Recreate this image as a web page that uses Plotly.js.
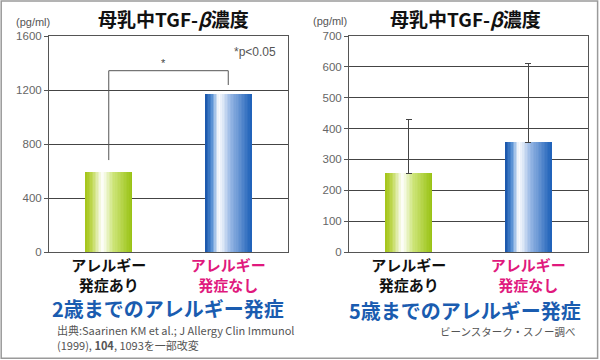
<!DOCTYPE html>
<html>
<head>
<meta charset="utf-8">
<script src="https://cdn.plot.ly/plotly-3.0.1.min.js"></script>
<style>html,body{margin:0;padding:0;background:#fff;}#chart{width:600px;height:360px;}</style>
</head>
<body>
<div id="chart"></div>
<script>
// ---- data ----
const categories = ["発症あり", "発症なし"];
const tickLabels = [
  '<b>アレルギー<br>発症あり</b>',
  '<b><span style="color:#e0197d">アレルギー<br>発症なし</span></b>'
];
const values2y = [590, 1170];          // 2歳まで (pg/ml)
const values5y = [255, 355];           // 5歳まで (pg/ml)
const errors5y = [175, 255];           // 5歳まで upper error
const bracketY = [681, 1343, 1343, 1237]; // significance bracket
const bracketX = [categories[0], categories[0], categories[1], categories[1]];
const yTicks2y = [0, 400, 800, 1200, 1600];
const yTicks5y = [0, 100, 200, 300, 400, 500, 600, 700];

// ---- gradient helpers (style only) ----
const greenStops = [[0,[163,196,22]],[0.14,[192,216,84]],[0.36,[255,255,255]],[0.6,[205,228,120]],[1,[152,194,18]]];
const blueStops  = [[0,[22,82,168]],[0.14,[80,140,210]],[0.3,[255,255,255]],[0.55,[150,182,228]],[1,[28,96,184]]];
function grad(stops, t){
  for(let i=1;i<stops.length;i++){
    if(t<=stops[i][0]){
      const a=stops[i-1], b=stops[i];
      const f=(t-a[0])/(b[0]-a[0]);
      const c=a[1].map((v,j)=>Math.round(v+(b[1][j]-v)*f));
      return 'rgb('+c.join(',')+')';
    }
  }
  const c=stops[stops.length-1][1];return 'rgb('+c.join(',')+')';
}
const N = 30, W = 0.39;
function gradientBars(vals, xa, ya){
  const tr=[];
  for(let k=0;k<N;k++){
    const t=(k+0.5)/N;
    tr.push({
      type:'bar', x:categories, y:vals, xaxis:xa, yaxis:ya,
      width:W/N*1.2, offset:-W/2+k*W/N,
      marker:{color:[grad(greenStops,t),grad(blueStops,t)], line:{width:0}},
      hoverinfo:'skip', showlegend:false
    });
  }
  return tr;
}

const traces = [];
traces.push(...gradientBars(values2y,'x','y'));
traces.push(...gradientBars(values5y,'x2','y2'));
// error bars on 5y chart
traces.push({
  type:'bar', x:categories, y:values5y, xaxis:'x2', yaxis:'y2', width:W,
  marker:{color:'rgba(0,0,0,0)', line:{width:0}},
  error_y:{type:'data', symmetric:false, array:errors5y, arrayminus:[0,0], color:'#444', thickness:1, width:3},
  hoverinfo:'skip', showlegend:false
});
// significance bracket
traces.push({
  type:'scatter', mode:'lines', x:bracketX, y:bracketY, xaxis:'x', yaxis:'y',
  line:{color:'#555', width:1}, hoverinfo:'skip', showlegend:false
});

const sans = 'Liberation Sans, Arial, sans-serif';
const tickFont = {family:sans, size:11.5, color:'#666'};
const catFont = {family:'Noto Sans CJK JP, sans-serif', size:15, color:'#111'};
const jp = 'Noto Sans CJK JP, sans-serif';

function xaxisDef(domain, anchor){
  return {domain:domain, anchor:anchor, type:'category', range:[-0.5,1.5],
    tickvals:categories, ticktext:tickLabels, tickfont:catFont, ticks:'', ticklen:0,
    showline:true, linecolor:'#555', linewidth:1, mirror:true, showgrid:false, zeroline:false, fixedrange:true};
}
function yaxisDef(range, tv, anchor){
  return {domain:[0.3,0.9], anchor:anchor, range:range, tickvals:tv, ticks:'outside', ticklen:4, tickcolor:'#555',
    tickfont:tickFont, showline:true, linecolor:'#555', linewidth:1, mirror:true,
    showgrid:true, gridcolor:'#444', gridwidth:1, zeroline:false, fixedrange:true};
}

const layout = {
  width:600, height:360, margin:{l:0,r:0,t:0,b:0},
  paper_bgcolor:'#fff', plot_bgcolor:'#fff',
  barmode:'overlay', bargap:0,
  xaxis:xaxisDef([49/600, 288/600],'y'),
  yaxis:yaxisDef([0,1600], yTicks2y,'x'),
  xaxis2:xaxisDef([349/600, 588/600],'y2'),
  yaxis2:yaxisDef([0,700], yTicks5y,'x2'),
  shapes:[
    {type:'rect', xref:'paper', yref:'paper', x0:0.002, x1:0.996, y0:0.005, y1:0.997,
     line:{color:'#9a9a9a', width:1.5}, fillcolor:'rgba(0,0,0,0)'}
  ],
  annotations:[
    {text:'<b>母乳中TGF-<i>β</i>濃度</b>', xref:'paper', yref:'paper', x:173/600, y:1-18/360, showarrow:false,
     font:{family:jp, size:19, color:'#111'}, xanchor:'center', yanchor:'middle'},
    {text:'<b>母乳中TGF-<i>β</i>濃度</b>', xref:'paper', yref:'paper', x:465/600, y:1-18/360, showarrow:false,
     font:{family:jp, size:19, color:'#111'}, xanchor:'center', yanchor:'middle'},
    {text:'(pg/ml)', xref:'paper', yref:'paper', x:33/600, y:1-22/360, showarrow:false,
     font:{family:sans, size:11, color:'#555'}, xanchor:'center', yanchor:'middle'},
    {text:'(pg/ml)', xref:'paper', yref:'paper', x:330/600, y:1-21/360, showarrow:false,
     font:{family:sans, size:11, color:'#555'}, xanchor:'center', yanchor:'middle'},
    {text:'*', xref:'paper', yref:'paper', x:163/600, y:1-63/360, showarrow:false,
     font:{family:sans, size:11, color:'#444'}, xanchor:'center', yanchor:'middle'},
    {text:'*p<0.05', xref:'paper', yref:'paper', x:278/600, y:1-52/360, showarrow:false,
     font:{family:sans, size:12, color:'#555'}, xanchor:'right', yanchor:'middle'},
    {text:'<b>2歳までのアレルギー発症</b>', xref:'paper', yref:'paper', x:168/600, y:1-308/360, showarrow:false,
     font:{family:jp, size:20, color:'#1a5cb0'}, xanchor:'center', yanchor:'middle'},
    {text:'<b>5歳までのアレルギー発症</b>', xref:'paper', yref:'paper', x:465/600, y:1-310/360, showarrow:false,
     font:{family:jp, size:20, color:'#1a5cb0'}, xanchor:'center', yanchor:'middle'},
    {text:'出典:Saarinen KM et al.; J Allergy Clin Immunol', xref:'paper', yref:'paper', x:55/600, y:1-330/360, showarrow:false,
     font:{family:jp, size:11, color:'#555'}, xanchor:'left', yanchor:'middle'},
    {text:'(1999), <b>104</b>, 1093を一部改変', xref:'paper', yref:'paper', x:55/600, y:1-345/360, showarrow:false,
     font:{family:jp, size:11, color:'#555'}, xanchor:'left', yanchor:'middle'},
    {text:'ビーンスターク・スノー調べ', xref:'paper', yref:'paper', x:578/600, y:1-331/360, showarrow:false,
     font:{family:jp, size:10.5, color:'#555'}, xanchor:'right', yanchor:'middle'}
  ]
};

Plotly.newPlot('chart', traces, layout, {staticPlot:true, displayModeBar:false});
</script>
</body>
</html>
